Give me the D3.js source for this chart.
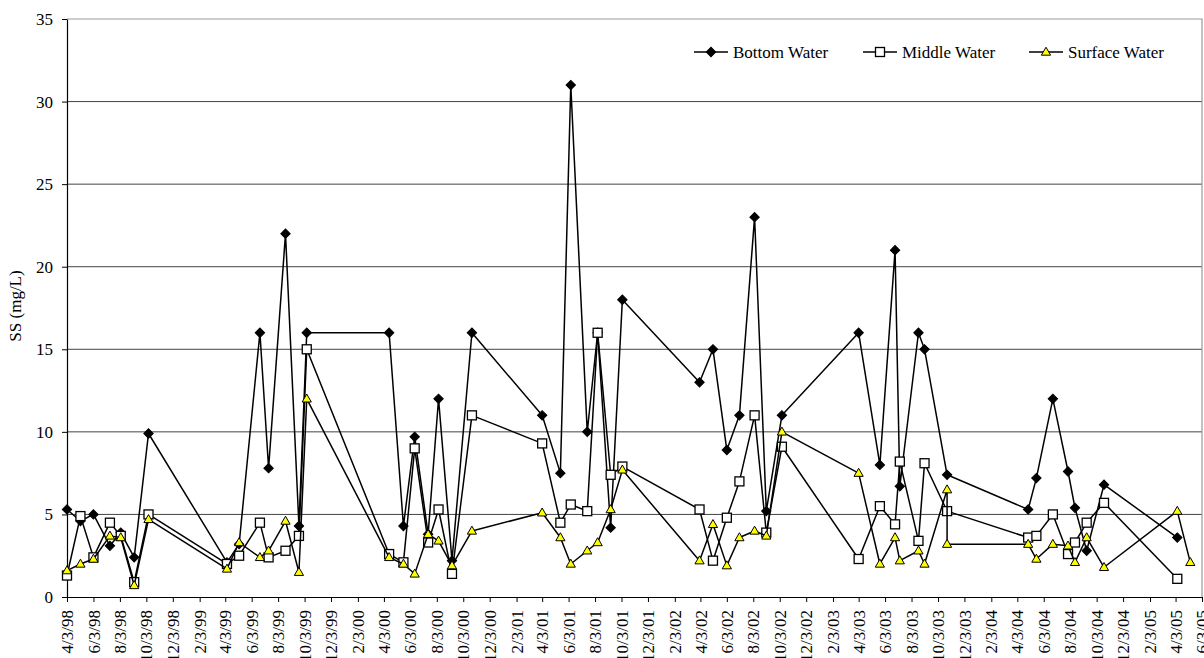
<!DOCTYPE html>
<html>
<head>
<meta charset="utf-8">
<script src="https://cdn.jsdelivr.net/npm/d3@7"></script>
<style>
  html, body { margin: 0; padding: 0; background: #fff; }
  svg { display: block; }
  svg text { font-family: "Liberation Serif", "Times New Roman", serif; }
</style>
</head>
<body>
<div id="chart"></div>
<script>
// Suspended solids sampling, 1998 - 2005

const sampleDates = [
  "1998-04-03", "1998-05-04", "1998-06-03", "1998-07-11", "1998-08-05", "1998-09-05", "1998-10-08",
  "1999-04-07", "1999-05-05", "1999-06-22", "1999-07-12", "1999-08-20", "1999-09-20", "1999-10-08",
  "2000-04-15", "2000-05-18", "2000-06-13", "2000-07-14", "2000-08-07", "2000-09-07", "2000-10-23",
  "2001-04-03", "2001-05-15", "2001-06-08", "2001-07-16", "2001-08-09", "2001-09-08", "2001-10-05",
  "2002-04-01", "2002-05-02", "2002-06-03", "2002-07-02", "2002-08-06", "2002-09-02", "2002-10-08",
  "2003-04-03", "2003-05-22", "2003-06-26", "2003-07-07", "2003-08-19", "2003-09-02", "2003-10-24", "2003-10-24",
  "2004-04-28", "2004-05-17", "2004-06-24", "2004-07-29", "2004-08-14", "2004-09-10", "2004-10-20",
  "2005-04-07", "2005-05-07"
];

const bottomWater = [
  5.3, 4.6, 5.0, 3.1, 3.9, 2.4, 9.9,
  2.1, 3.2, 16, 7.8, 22, 4.3, 16,
  16, 4.3, 9.7, 3.8, 12, 2.2, 16,
  11, 7.5, 31, 10, 16, 4.2, 18,
  13, 15, 8.9, 11, 23, 5.2, 11,
  16, 8, 21, 6.7, 16, 15, 7.4, null,
  5.3, 7.2, 12, 7.6, 5.4, 2.8, 6.8,
  3.6, null
];

const middleWater = [
  1.3, 4.9, 2.4, 4.5, 3.7, 0.9, 5.0,
  2.0, 2.5, 4.5, 2.4, 2.8, 3.7, 15,
  2.6, 2.1, 9.0, 3.3, 5.3, 1.4, 11,
  9.3, 4.5, 5.6, 5.2, 16, 7.4, 7.9,
  5.3, 2.2, 4.8, 7.0, 11, 3.9, 9.1,
  2.3, 5.5, 4.4, 8.2, 3.4, 8.1, 5.2, null,
  3.6, 3.7, 5.0, 2.6, 3.3, 4.5, 5.7,
  1.1, null
];

const surfaceWater = [
  1.6, 2.0, 2.3, 3.7, 3.6, 0.7, 4.7,
  1.7, 3.3, 2.4, 2.8, 4.6, 1.5, 12,
  2.4, 2.0, 1.4, 3.8, 3.4, 1.9, 4.0,
  5.1, 3.6, 2.0, 2.8, 3.3, 5.3, 7.7,
  2.2, 4.4, 1.9, 3.6, 4.0, 3.7, 10,
  7.5, 2.0, 3.6, 2.2, 2.8, 2.0, 6.5, 3.2,
  3.2, 2.3, 3.2, 3.1, 2.1, 3.6, 1.8,
  5.2, 2.1
];

const seriesNames = ["Bottom Water", "Middle Water", "Surface Water"];
const yTicks = [0, 5, 10, 15, 20, 25, 30, 35];
const axisStart = "1998-04-03";
const axisEnd = "2005-06-03";

const width = 1204;
const height = 658;
const margin = { top: 19, right: 2, bottom: 61, left: 67 };
const font = "'Liberation Serif', 'Times New Roman', serif";

const parseDate = d3.timeParse("%Y-%m-%d");
const fmtTick = d3.timeFormat("%-m/%-d/%y");

const svg = d3.select("#chart")
  .append("svg")
  .attr("width", width)
  .attr("height", height);

const x = d3.scaleTime()
  .domain([parseDate(axisStart), parseDate(axisEnd)])
  .range([margin.left, width - margin.right]);

const y = d3.scaleLinear()
  .domain([0, 35])
  .range([height - margin.bottom, margin.top]);

// ticks every second month, on the 3rd
const tickDates = d3.timeMonth
  .range(d3.timeMonth.floor(parseDate(axisStart)), d3.timeDay.offset(parseDate(axisEnd), 1), 2)
  .map(d => d3.timeDay.offset(d, 2));

// the date labels run off the bottom of the chart, like the original
svg.append("defs")
  .append("clipPath")
  .attr("id", "xlabel-clip")
  .append("rect")
  .attr("x", 0).attr("y", 0)
  .attr("width", width).attr("height", 652);

// grid lines
svg.append("g")
  .selectAll("line")
  .data(yTicks.filter(t => t > 0 && t < 35))
  .join("line")
  .attr("x1", margin.left)
  .attr("x2", width - margin.right)
  .attr("y1", d => y(d))
  .attr("y2", d => y(d))
  .attr("stroke", "#444")
  .attr("stroke-width", 1);

// plot area border (top + right)
svg.append("path")
  .attr("d", `M${margin.left},${y(35)}H${width - margin.right}V${y(0)}`)
  .attr("fill", "none")
  .attr("stroke", "#999")
  .attr("stroke-width", 1.2);

// x axis
const xAxis = d3.axisBottom(x)
  .tickValues(tickDates)
  .tickFormat(fmtTick)
  .tickSize(5)
  .tickSizeOuter(0);

svg.append("g")
  .attr("transform", `translate(0,${y(0)})`)
  .attr("clip-path", "url(#xlabel-clip)")
  .call(xAxis)
  .call(g => g.attr("font-family", null))
  .call(g => g.select(".domain").attr("stroke", "#000").attr("stroke-width", 1.2))
  .call(g => g.selectAll(".tick line").attr("stroke", "#000"))
  .call(g => g.selectAll(".tick text")
    .style("font-family", font)
    .style("font-size", "17px")
    .attr("fill", "#000")
    .attr("text-anchor", "end")
    .attr("transform", "rotate(-90)")
    .attr("x", -13)
    .attr("y", 0)
    .attr("dy", "0.33em"));

// y axis
const yAxis = d3.axisLeft(y)
  .tickValues(yTicks)
  .tickSize(5)
  .tickSizeOuter(0);

svg.append("g")
  .attr("transform", `translate(${margin.left},0)`)
  .call(yAxis)
  .call(g => g.attr("font-family", null))
  .call(g => g.select(".domain").attr("stroke", "#000").attr("stroke-width", 1.2))
  .call(g => g.selectAll(".tick line").attr("stroke", "#000"))
  .call(g => g.selectAll(".tick text")
    .style("font-family", font)
    .style("font-size", "17px")
    .attr("fill", "#000")
    .attr("x", -14));

svg.append("text")
  .attr("transform", "rotate(-90)")
  .attr("x", -306)
  .attr("y", 15)
  .attr("dy", "0.35em")
  .attr("text-anchor", "middle")
  .style("font-size", "17px")
  .text("SS (mg/L)");

// series
const dates = sampleDates.map(parseDate);
const series = [
  { name: seriesNames[0], values: bottomWater, shape: "diamond" },
  { name: seriesNames[1], values: middleWater, shape: "square" },
  { name: seriesNames[2], values: surfaceWater, shape: "triangle" }
];

function marker(sel, shape) {
  if (shape === "diamond") {
    sel.append("path")
      .attr("d", d3.symbol(d3.symbolSquare, 44)())
      .attr("transform", "rotate(45)")
      .attr("fill", "#000")
      .attr("stroke", "#000")
      .attr("stroke-width", 1);
  } else if (shape === "square") {
    sel.append("rect")
      .attr("x", -4.5).attr("y", -4.5)
      .attr("width", 9).attr("height", 9)
      .attr("fill", "#fff")
      .attr("stroke", "#000")
      .attr("stroke-width", 1.3);
  } else {
    sel.append("path")
      .attr("d", "M0,-4.8L4.6,3.2L-4.6,3.2Z")
      .attr("fill", "#ffff00")
      .attr("stroke", "#000")
      .attr("stroke-width", 1);
  }
}

const line = d3.line()
  .x(d => x(d.date))
  .y(d => y(d.value));

series.forEach(s => {
  const pts = dates
    .map((d, i) => ({ date: d, value: s.values[i] }))
    .filter(p => p.value != null);

  const g = svg.append("g");
  g.append("path")
    .datum(pts)
    .attr("d", line)
    .attr("fill", "none")
    .attr("stroke", "#000")
    .attr("stroke-width", 1.5)
    .attr("stroke-linejoin", "round");

  g.selectAll(".pt")
    .data(pts)
    .join("g")
    .attr("class", "pt")
    .attr("transform", d => `translate(${x(d.date)},${y(d.value)})`)
    .each(function () { marker(d3.select(this), s.shape); });
});

// legend
const legendX = [694, 863, 1029];
const legendY = 52;
const legend = svg.append("g");

series.forEach((s, i) => {
  const item = legend.append("g").attr("transform", `translate(${legendX[i]},${legendY})`);
  item.append("line")
    .attr("x1", 0).attr("x2", 34)
    .attr("stroke", "#000")
    .attr("stroke-width", 1.5);
  marker(item.append("g").attr("transform", "translate(17,0)"), s.shape);
  item.append("text")
    .attr("x", 39)
    .attr("dy", "0.35em")
    .style("font-size", "17px")
    .text(s.name);
});
</script>
</body>
</html>
